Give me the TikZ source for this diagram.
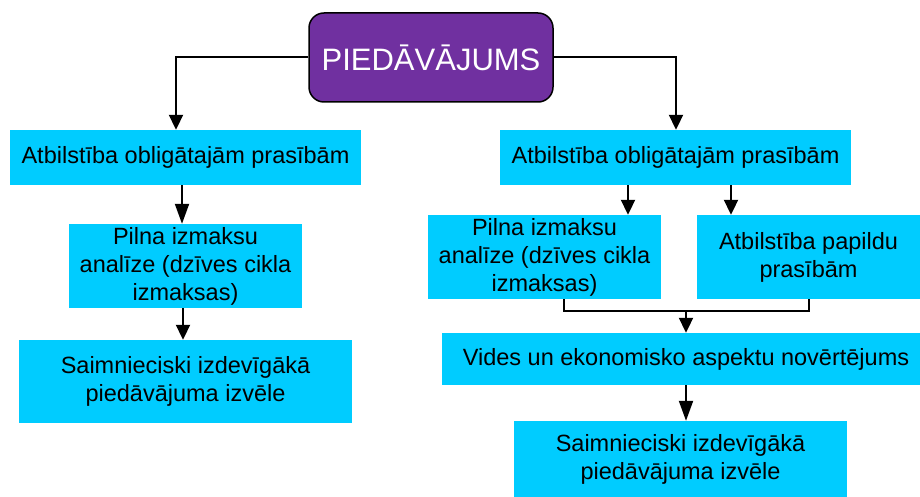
\documentclass[tikz,border=0pt]{standalone}
\usepackage{fontspec}
\setmainfont{Liberation Sans}
\usetikzlibrary{arrows.meta,calc}
\definecolor{boxcyan}{RGB}{0,204,255}
\definecolor{toppurple}{RGB}{112,48,160}
\begin{document}
\begin{tikzpicture}[x=1pt,y=-1pt,
  cbox/.style={fill=boxcyan, inner sep=0pt, align=center, font=\fontsize{23.5}{28}\selectfont},
  topbox/.style={fill=toppurple, draw=black, line width=1.5pt, rounded corners=15pt, inner sep=0pt,
     text=white, font=\fontsize{31}{36}\selectfont},
  conn/.style={draw=black, line width=2pt},
  arr/.style={conn, -{Triangle[width=14pt,length=15pt]}},
  arrl/.style={conn, -{Triangle[width=14pt,length=20pt]}}
]
\useasboundingbox (0,0) rectangle (920,497);
% top
\node[topbox, minimum width=244pt, minimum height=89pt] (top) at (431,57.5) {PIED\={A}V\={A}JUMS};
% left column
\node[cbox, minimum width=351pt, minimum height=55pt] (L1) at (185.5,157.5) {Atbilstība obligātajām prasībām};
\node[cbox, minimum width=233pt, minimum height=84pt] (L2) at (185.5,266) {Pilna izmaksu\\analīze (dzīves cikla\\izmaksas)};
\node[cbox, minimum width=333pt, minimum height=83pt] (L3) at (185.5,381.5) {Saimnieciski izdevīgākā\\piedāvājuma izvēle};
% right column
\node[cbox, minimum width=351pt, minimum height=55pt] (R1) at (675.5,157.5) {Atbilstība obligātajām prasībām};
\node[cbox, minimum width=233pt, minimum height=84pt] (R2) at (544.5,257) {Pilna izmaksu\\analīze (dzīves cikla\\izmaksas)};
\node[cbox, minimum width=223pt, minimum height=84pt] (R3) at (808.5,257) {Atbilstība papildu\\prasībām};
\node[cbox, minimum width=478pt, minimum height=52pt] (R4) at (681,359) {\hspace*{10pt}Vides un ekonomisko aspektu novērtējums};
\node[cbox, minimum width=333pt, minimum height=76pt] (R5) at (680.5,459) {Saimnieciski izdevīgākā\\piedāvājuma izvēle};
% connectors
\draw[arr] (top.west) -| ([xshift=-9.5]L1.north);
\draw[arr] (top.east) -| ([xshift=0.5]R1.north);
\draw[arrl] ([xshift=-3.5]L1.south) -- ([xshift=-3.5]L2.north);
\draw[arr] ([xshift=-2.5]L2.south) -- ([xshift=-2.5]L3.north);
\draw[arr] ([xshift=-47.5]R1.south) -- ([xshift=-47.5]R1.south |- R2.north);
\draw[arr] ([xshift=55.5]R1.south) -- ([xshift=55.5]R1.south |- R3.north);
\coordinate (m) at (686,311);
\draw[conn] ([xshift=19.5]R2.south) |- (m) -| (R3.south);
\draw[arr] (m) -- (m |- R4.north);
\draw[arrl] (m |- R4.south) -- (m |- R5.north);
\end{tikzpicture}
\end{document}
